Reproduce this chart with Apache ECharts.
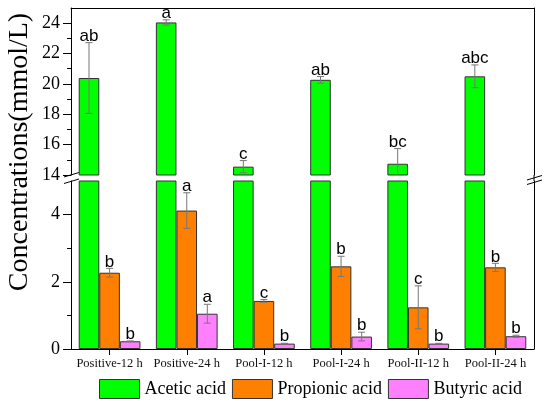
<!DOCTYPE html>
<html>
<head>
<meta charset="utf-8">
<script src="https://cdn.jsdelivr.net/npm/echarts@6.0.0/dist/echarts.min.js"></script>
<style>
  html, body { margin: 0; padding: 0; background: #fff; }
  #chart { width: 550px; height: 405px; }
</style>
</head>
<body>
<div id="chart"></div>
<script>
// 数据
var categories = ['Positive-12 h', 'Positive-24 h', 'Pool-I-12 h', 'Pool-I-24 h', 'Pool-II-12 h', 'Pool-II-24 h'];
var acetic = [20.39, 24.05, 14.55, 20.27, 14.74, 20.5];
var aceticErr = [2.33, 0.17, 0.4, 0.22, 1.0, 0.75];
var aceticLetters = ['ab', 'a', 'c', 'ab', 'bc', 'abc'];
var propionic = [2.27, 4.12, 1.43, 2.46, 1.24, 2.43];
var propionicErr = [0.13, 0.53, 0.04, 0.3, 0.64, 0.12];
var propionicLetters = ['b', 'a', 'c', 'b', 'c', 'b'];
var butyric = [0.23, 1.05, 0.16, 0.37, 0.16, 0.38];
var butyricErr = [0.01, 0.28, 0.01, 0.13, 0.01, 0.03];
var butyricLetters = ['b', 'a', 'b', 'b', 'b', 'b'];

var upperTicks = [14, 16, 18, 20, 22, 24];
var upperMinor = [15, 17, 19, 21, 23];
var lowerTicks = [0, 2, 4];
var lowerMinor = [1, 3];

var colors = ['#00ff00', '#ff8000', '#ff80ff'];
var serif = '"Liberation Serif", "Times New Roman", serif';
var sans = '"Liberation Sans", Arial, sans-serif';

var chart = echarts.init(document.getElementById('chart'));

function empty() {
    return categories.map(function () { return '-'; });
}

// 误差线 + 字母
function errorSeries(name, slot, values, errs, letters, gridIdx) {
    return {
        name: name + ' err',
        type: 'custom',
        xAxisIndex: gridIdx,
        yAxisIndex: gridIdx * 3,
        z: 5,
        data: values.map(function (v, i) { return [i, v]; }),
        renderItem: function (params, api) {
            var idx = params.dataIndex;
            var v = api.value(1);
            var e = errs[idx];
            var band = api.size([1, 0])[0];
            var bw = band * 0.8 / 3;
            var top = api.coord([api.value(0), v + e]);
            var bot = api.coord([api.value(0), v - e]);
            var x = top[0] + (slot - 1) * bw;
            var yb = Math.min(bot[1], params.coordSys.y + params.coordSys.height);
            var st = { stroke: '#777', lineWidth: 1 };
            var cap = 3.5;
            return {
                type: 'group',
                children: [
                    { type: 'line', shape: { x1: x, y1: top[1], x2: x, y2: yb }, style: st },
                    { type: 'line', shape: { x1: x - cap, y1: top[1], x2: x + cap, y2: top[1] }, style: st },
                    { type: 'line', shape: { x1: x - cap, y1: yb, x2: x + cap, y2: yb }, style: st, invisible: yb < bot[1] },
                    {
                        type: 'text',
                        style: {
                            text: letters[idx], x: x, y: top[1] + 2,
                            textAlign: 'center', textVerticalAlign: 'bottom',
                            font: '17px ' + sans, fill: '#000'
                        }
                    }
                ]
            };
        }
    };
}

function barSeries(name, color, data, gridIdx) {
    return {
        name: name,
        type: 'bar',
        xAxisIndex: gridIdx,
        yAxisIndex: gridIdx * 3,
        barGap: 0,
        barCategoryGap: '20%',
        clip: true,
        itemStyle: { color: color, borderColor: '#333', borderWidth: 1 },
        data: data
    };
}

function leftAxis(gridIdx, min, max, ticks) {
    return {
        type: 'value', gridIndex: gridIdx, position: 'left', min: min, max: max,
        splitLine: { show: false },
        axisLine: { show: true, lineStyle: { color: '#000', width: 1 } },
        axisTick: { show: true, length: 8, customValues: ticks, lineStyle: { color: '#000' } },
        axisLabel: { customValues: ticks, margin: 11, fontFamily: serif, fontSize: 18, color: '#000' }
    };
}

function minorAxis(gridIdx, min, max, ticks) {
    return {
        type: 'value', gridIndex: gridIdx, position: 'left', min: min, max: max,
        splitLine: { show: false },
        axisLine: { show: false },
        axisTick: { show: true, length: 4, customValues: ticks, lineStyle: { color: '#000' } },
        axisLabel: { show: false }
    };
}

function rightAxis(gridIdx, min, max) {
    return {
        type: 'value', gridIndex: gridIdx, position: 'right', min: min, max: max,
        splitLine: { show: false },
        axisLine: { show: true, lineStyle: { color: '#000', width: 1 } },
        axisTick: { show: false },
        axisLabel: { show: false }
    };
}

var breakStyle = { stroke: '#000', lineWidth: 1 };

var option = {
    animation: false,
    backgroundColor: '#fff',
    grid: [
        { left: 71, right: 16, top: 8, height: 167 },
        { left: 71, right: 16, top: 181, height: 168 }
    ],
    xAxis: [
        {
            type: 'category', gridIndex: 0, position: 'top', data: categories,
            axisLine: { show: true, lineStyle: { color: '#000', width: 1 } },
            axisTick: { show: false }, axisLabel: { show: false }
        },
        {
            type: 'category', gridIndex: 1, position: 'bottom', data: categories,
            axisLine: { show: true, lineStyle: { color: '#000', width: 1 } },
            axisTick: { show: true, alignWithLabel: true, length: 6, lineStyle: { color: '#000' } },
            axisLabel: { margin: 8, fontFamily: serif, fontSize: 12.5, color: '#111', interval: 0 }
        }
    ],
    yAxis: [
        leftAxis(0, 14, 25, upperTicks),
        minorAxis(0, 14, 25, upperMinor),
        rightAxis(0, 14, 25),
        leftAxis(1, 0, 5, lowerTicks),
        minorAxis(1, 0, 5, lowerMinor),
        rightAxis(1, 0, 5)
    ],
    legend: {
        data: ['Acetic acid', 'Propionic acid', 'Butyric acid'],
        left: 99, top: 379, padding: 0,
        icon: 'rect', itemWidth: 40, itemHeight: 19, itemGap: 6,
        itemStyle: { borderColor: '#333', borderWidth: 1 },
        textStyle: { fontFamily: serif, fontSize: 18, color: '#000' }
    },
    graphic: [
        {
            type: 'text', x: 20, y: 152, rotation: Math.PI / 2,
            style: {
                text: 'Concentrations(mmol/L)', font: '28px ' + serif,
                textAlign: 'center', textVerticalAlign: 'middle', fill: '#000'
            }
        },
        // 断轴标记
        { type: 'line', shape: { x1: 64, y1: 177, x2: 79, y2: 172.5 }, style: breakStyle },
        { type: 'line', shape: { x1: 64, y1: 183.5, x2: 79, y2: 179 }, style: breakStyle },
        { type: 'line', shape: { x1: 534, y1: 175, x2: 534, y2: 181 }, style: breakStyle },
        { type: 'line', shape: { x1: 527, y1: 180, x2: 542, y2: 175.5 }, style: breakStyle },
        { type: 'line', shape: { x1: 527, y1: 184.5, x2: 542, y2: 180 }, style: breakStyle }
    ],
    series: [
        barSeries('Acetic acid', colors[0], acetic, 0),
        barSeries('Propionic acid', colors[1], empty(), 0),
        barSeries('Butyric acid', colors[2], empty(), 0),
        barSeries('Acetic acid', colors[0], acetic, 1),
        barSeries('Propionic acid', colors[1], propionic, 1),
        barSeries('Butyric acid', colors[2], butyric, 1),
        errorSeries('Acetic acid', 0, acetic, aceticErr, aceticLetters, 0),
        errorSeries('Propionic acid', 1, propionic, propionicErr, propionicLetters, 1),
        errorSeries('Butyric acid', 2, butyric, butyricErr, butyricLetters, 1)
    ]
};

chart.setOption(option);
</script>
</body>
</html>
